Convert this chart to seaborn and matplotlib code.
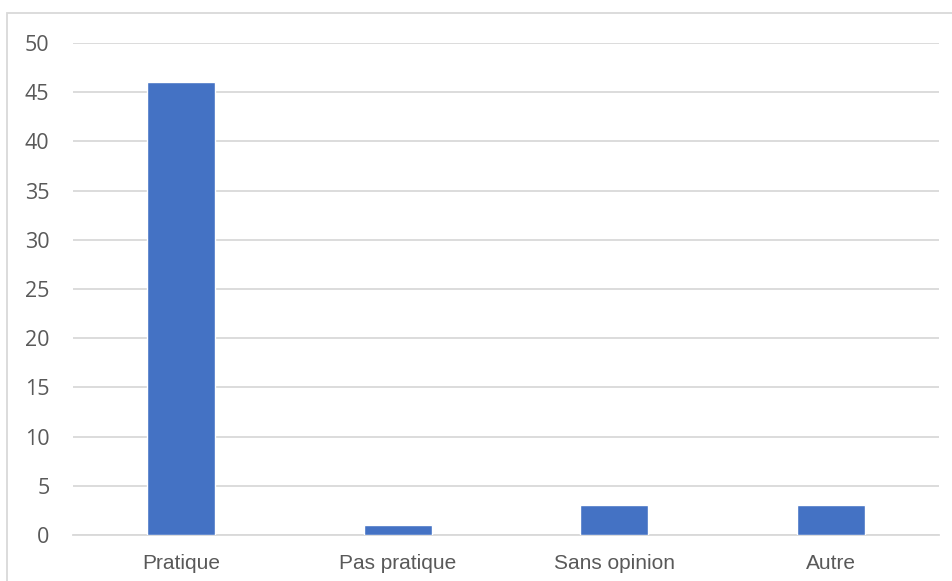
import pandas as pd
import matplotlib
matplotlib.use("Agg")
import matplotlib.pyplot as plt
from matplotlib.patches import Rectangle
import seaborn as sns

categories = ["Pratique", "Pas pratique", "Sans opinion", "Autre"]
counts = [46, 1, 3, 3]
yticks = [0, 5, 10, 15, 20, 25, 30, 35, 40, 45, 50]

sns.set_style("white")

df = pd.DataFrame({"categorie": categories, "nombre": counts})

fig = plt.figure(figsize=(9.52, 5.81), dpi=100)
ax = fig.add_axes([73 / 952, 1 - 535 / 581, 866 / 952, 492 / 581])

sns.barplot(data=df, x="categorie", y="nombre", color="#4472C4", width=0.315,
            saturation=1, ax=ax, zorder=3)

ax.set_ylim(0, 50)
ax.set_yticks(yticks)
ax.set_xlim(-0.5, 3.5)
ax.yaxis.grid(True, color="#D9D9D9", linewidth=1.3, zorder=0)
ax.set_axisbelow(True)
for s in ["top", "right", "left"]:
    ax.spines[s].set_visible(False)
ax.spines["bottom"].set_color("#D9D9D9")
ax.spines["bottom"].set_linewidth(1.3)
ax.set_xlabel("")
ax.set_ylabel("")
ax.tick_params(axis="both", length=0, colors="#595959")
ax.tick_params(axis="y", pad=17, labelsize=15.5, labelfontfamily="Open Sans")
ax.tick_params(axis="x", pad=14, labelsize=15, labelfontfamily="Liberation Sans")

# outer chart border (cropped on the right and bottom)
fig.patches.append(Rectangle((7 / 952, -0.1), 1.2, 1 - 13 / 581 + 0.1,
                             transform=fig.transFigure, fill=False,
                             edgecolor="#D9D9D9", linewidth=1.3))

fig.savefig("out.png", dpi=100)
